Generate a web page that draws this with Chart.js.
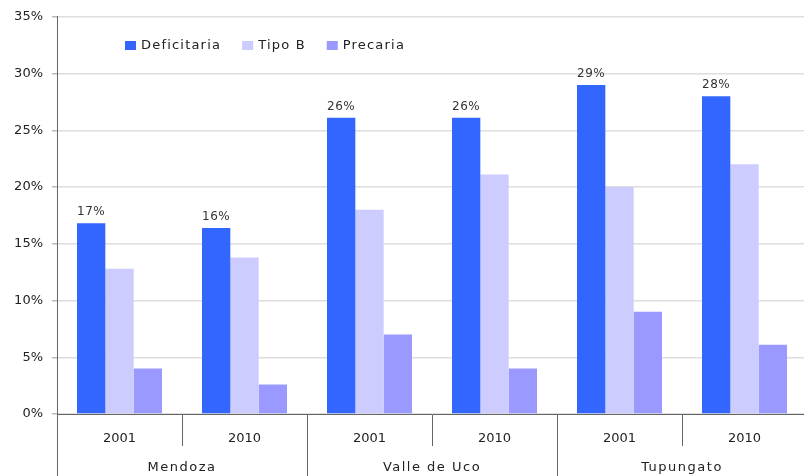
<!DOCTYPE html>
<html>
<head>
<meta charset="utf-8">
<script src="https://cdn.jsdelivr.net/npm/chart.js@4/dist/chart.umd.min.js"></script>
<style>
  html, body { margin: 0; padding: 0; background: #fff; overflow: hidden; }
  #wrap { width: 807px; height: 476px; }
</style>
</head>
<body>
<div id="wrap"><canvas id="grafico" width="807" height="476"></canvas></div>
<script>
// Datos
const anios = ['2001', '2010', '2001', '2010', '2001', '2010'];
const grupos = ['Mendoza', 'Valle de Uco', 'Tupungato'];
const deficitaria = [16.8, 16.4, 26.1, 26.1, 29.0, 28.0];
const tipoB = [12.8, 13.8, 18.0, 21.1, 20.0, 22.0];
const precaria = [4.0, 2.6, 7.0, 4.0, 9.0, 6.1];
const yTicks = [0, 5, 10, 15, 20, 25, 30, 35];

const FUENTE = '"DejaVu Sans", Verdana, sans-serif';

// Plugin para leyenda, etiquetas de grupo y valores sobre las barras
const extras = {
    id: 'extras',
    afterDraw(chart) {
        const ctx = chart.ctx;
        const area = chart.chartArea;
        const x = chart.scales.x;
        const alto = chart.height;
        ctx.save();

        // eje vertical prolongado hasta abajo
        ctx.strokeStyle = '#666';
        ctx.lineWidth = 1;
        ctx.beginPath();
        ctx.moveTo(area.left + 0.5, area.bottom);
        ctx.lineTo(area.left + 0.5, alto);
        ctx.stroke();

        // separadores entre grupos y nombres de grupo
        ctx.font = '13px ' + FUENTE;
        ctx.letterSpacing = '1.5px';
        ctx.fillStyle = '#222';
        ctx.textAlign = 'center';
        ctx.textBaseline = 'middle';
        grupos.forEach((g, i) => {
            const a = i * 2, b = i * 2 + 1;
            const centro = (x.getPixelForValue(a) + x.getPixelForValue(b)) / 2;
            ctx.fillText(g, centro, alto - 8);
            if (i > 0) {
                const sep = Math.round((x.getPixelForValue(a - 1) + x.getPixelForValue(a)) / 2) + 0.5;
                ctx.beginPath();
                ctx.moveTo(sep, area.bottom);
                ctx.lineTo(sep, alto);
                ctx.stroke();
            }
        });

        // valores sobre las barras Deficitaria
        ctx.font = '12px ' + FUENTE;
        ctx.letterSpacing = '0.5px';
        ctx.fillStyle = '#333';
        ctx.textBaseline = 'bottom';
        chart.getDatasetMeta(0).data.forEach((barra, i) => {
            ctx.fillText(Math.round(deficitaria[i]) + '%', barra.x, barra.y - 5);
        });

        // leyenda
        ctx.font = '13px ' + FUENTE;
        ctx.letterSpacing = '1.2px';
        ctx.textAlign = 'left';
        ctx.textBaseline = 'middle';
        let lx = 125;
        const ly = 46;
        chart.data.datasets.forEach(ds => {
            ctx.fillStyle = ds.backgroundColor;
            ctx.fillRect(lx, ly - 5, 11, 9);
            ctx.fillStyle = '#222';
            ctx.fillText(ds.label, lx + 16, ly);
            lx += 16 + ctx.measureText(ds.label).width + 21;
        });
        ctx.restore();
    }
};

const ctx = document.getElementById('grafico').getContext('2d');
const grafico = new Chart(ctx, {
    type: 'bar',
    data: {
        labels: anios,
        datasets: [
            { label: 'Deficitaria', data: deficitaria, backgroundColor: '#3366ff' },
            { label: 'Tipo B', data: tipoB, backgroundColor: '#ccccff' },
            { label: 'Precaria', data: precaria, backgroundColor: '#9999ff' }
        ]
    },
    options: {
        responsive: false,
        animation: false,
        layout: { padding: { top: 16, right: 0, bottom: 0, left: 0 } },
        datasets: {
            bar: { categoryPercentage: 0.68, barPercentage: 1.0 }
        },
        scales: {
            x: {
                grid: { offset: true, drawOnChartArea: false, tickLength: 32, color: '#666', lineWidth: 1 },
                border: { display: true, color: '#666', width: 1 },
                ticks: { padding: -15, color: '#222', font: { family: FUENTE, size: 13 }, maxRotation: 0 },
                afterFit(s) { s.height = 62; }
            },
            y: {
                min: 0,
                max: 35,
                afterBuildTicks(s) { s.ticks = yTicks.map(v => ({ value: v })); },
                grid: { color: '#dedede', lineWidth: 1.5, tickLength: 5, tickColor: '#bbb' },
                border: { display: true, color: '#666', width: 1 },
                ticks: {
                    padding: 9,
                    color: '#222',
                    font: { family: FUENTE, size: 13 },
                    callback: v => v + '%'
                },
                afterFit(s) { s.width = 57; }
            }
        },
        plugins: {
            legend: { display: false },
            tooltip: { enabled: false }
        }
    },
    plugins: [extras]
});
</script>
</body>
</html>
